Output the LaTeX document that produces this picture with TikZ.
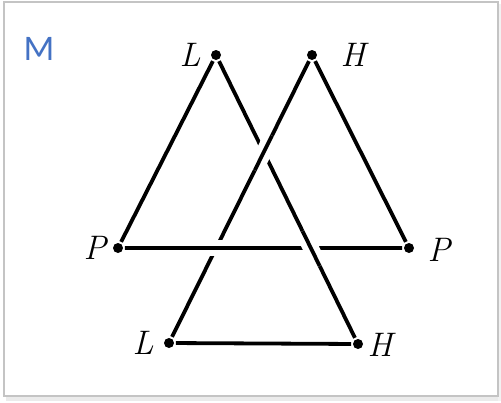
\documentclass[tikz,border=0pt]{standalone}
\usepackage{fontspec}
\usetikzlibrary{calc}
\newfontfamily\calib{Carlito}
\definecolor{mblue}{HTML}{4472C4}
\definecolor{rim}{HTML}{C4C4C4}

\begin{document}
\begin{tikzpicture}[x=1pt,y=-1pt,line width=3.8pt,
  dot/.style={circle,fill=black,inner sep=0pt,minimum size=10pt},
  lbl/.style={font=\fontsize{34}{36}\selectfont\itshape,inner sep=0pt},
  over/.style={preaction={draw=white,line width=16pt}}]
\useasboundingbox (0,0) rectangle (501,402);
% frame and shadow
\fill[black!8] (6,396) rectangle (500,401);
\fill[black!5] (498,4) rectangle (501,401);
\draw[rim,line width=1.5pt] (4,2) rectangle (498,396);
\node[font=\calib\fontsize{36}{38}\selectfont,text=mblue,inner sep=0pt] (M) at (39,48.5) {M};
% corners of the two triangles
\node[dot] (L1) at (216,55) {};
\node[dot] (H1) at (312,55) {};
\node[dot] (P1) at (118,248) {};
\node[dot] (P2) at (409,248) {};
\node[dot] (L2) at (169,343) {};
\node[dot] (H2) at (358,344) {};
\node[lbl] (tL1) at (190,55) {L};
\node[lbl] (tH1) at (353,55) {H};
\node[lbl] (tP1) at (95,248) {P};
\node[lbl] (tP2) at (439,250) {P};
\node[lbl] (tL2) at (143,343) {L};
\node[lbl] (tH2) at (380,345) {H};
\draw (L1) -- (P1) -- (P2) -- (H1) -- (L2) -- (H2) -- (L1);
% crossings
\draw[over] ($(H1)!0.28!(L2)$) -- ($(H1)!0.40!(L2)$);
\draw[over] ($(P1)!0.28!(P2)$) -- ($(P1)!0.40!(P2)$);
\draw[over] ($(L1)!0.61!(H2)$) -- ($(L1)!0.73!(H2)$);
\end{tikzpicture}
\end{document}
